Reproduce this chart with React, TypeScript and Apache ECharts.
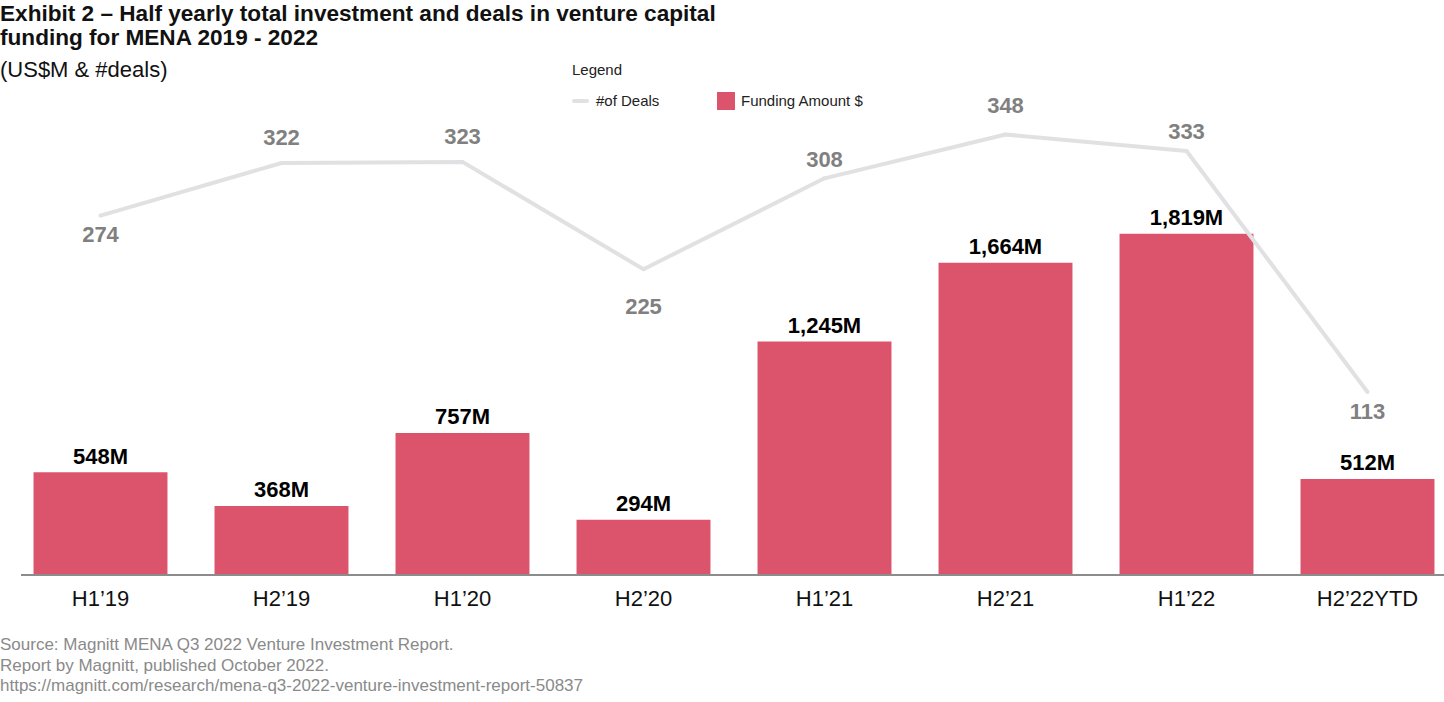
import React, { useEffect, useRef } from "react";
import * as echarts from "echarts";

const categories = ["H1’19", "H2’19", "H1’20", "H2’20", "H1’21", "H2’21", "H1’22", "H2’22YTD"];
const fundingAmount = [548, 368, 757, 294, 1245, 1664, 1819, 512];
const dealCounts = [274, 322, 323, 225, 308, 348, 333, 113];
const dealLabelPlacement = ["bottom", "top", "top", "bottom", "top", "top", "top", "bottom"];
const dealLabelShift = [0, -6, -6, 18, 0, -10, 0, 0];

const titleLines = [
  "Exhibit 2 – Half yearly total investment and deals in venture capital",
  "funding for MENA 2019 - 2022",
];
const subtitle = "(US$M & #deals)";
const sourceLines = [
  "Source: Magnitt MENA Q3 2022 Venture Investment Report.",
  "Report by Magnitt, published October 2022.",
  "https://magnitt.com/research/mena-q3-2022-venture-investment-report-50837",
];

const BAR = "#dc546c";
const LINE = "#e1e1e3";
const FONT = "'Liberation Sans', Arial, Helvetica, sans-serif";

export default function App() {
  const ref = useRef<HTMLDivElement>(null);
  useEffect(() => {
    if (!ref.current) return;
    const chart = echarts.init(ref.current, undefined, { renderer: "svg" });
    const fmt = (v: number) => v.toLocaleString("en-US") + "M";
    chart.setOption({
      animation: false,
      textStyle: { fontFamily: FONT },
      grid: { left: 10, right: 0, top: 106, bottom: 127, containLabel: false },
      xAxis: {
        type: "category",
        data: categories,
        axisLine: { show: false },
        axisTick: { show: false },
        axisLabel: { color: "#111", fontSize: 22, margin: 12, fontFamily: FONT },
      },
      yAxis: [
        { type: "value", min: 0, max: 2500, show: false },
        { type: "value", min: -54, max: 374, show: false },
      ],
      series: [
        {
          type: "bar",
          name: "Funding Amount $",
          data: fundingAmount,
          yAxisIndex: 0,
          barCategoryGap: "26%",
          itemStyle: { color: BAR },
          label: {
            show: true,
            position: "top",
            distance: 5,
            color: "#000",
            fontWeight: "bold",
            fontSize: 22,
            fontFamily: FONT,
            formatter: (p: any) => fmt(p.value),
          },
          z: 2,
        },
        {
          type: "line",
          name: "#of Deals",
          yAxisIndex: 1,
          symbol: "circle",
          symbolSize: 4,
          itemStyle: { color: LINE },
          lineStyle: { color: LINE, width: 4 },
          data: dealCounts.map((v, i) => ({
            value: v,
            label: {
              position: dealLabelPlacement[i],
              offset: [0, dealLabelShift[i]],
            },
          })),
          label: {
            show: true,
            color: "#808080",
            fontWeight: "bold",
            fontSize: 22,
            fontFamily: FONT,
            distance: 6,
          },
          z: 3,
        },
      ],
      graphic: [
        { type: "line", shape: { x1: 21, y1: 575, x2: 1444, y2: 575 }, style: { stroke: "#8c8c8c", lineWidth: 2 }, z: 10 },
        { type: "text", left: 0, top: 2, style: { text: titleLines[0], font: `bold 22.6px ${FONT}`, fill: "#111" } },
        { type: "text", left: 0, top: 26, style: { text: titleLines[1], font: `bold 22.6px ${FONT}`, fill: "#111" } },
        { type: "text", left: 0, top: 58, style: { text: subtitle, font: `22px ${FONT}`, fill: "#111" } },
        { type: "text", left: 572, top: 62, style: { text: "Legend", font: `15px ${FONT}`, fill: "#222" } },
        { type: "line", shape: { x1: 574, y1: 101, x2: 587, y2: 101 }, style: { stroke: LINE, lineWidth: 4, lineCap: "round" } },
        { type: "text", left: 596, top: 93, style: { text: "#of Deals", font: `15px ${FONT}`, fill: "#222" } },
        { type: "rect", shape: { x: 717, y: 92, width: 18, height: 18 }, style: { fill: BAR } },
        { type: "text", left: 741, top: 93, style: { text: "Funding Amount $", font: `15px ${FONT}`, fill: "#222" } },
        ...sourceLines.map((t, i) => ({
          type: "text",
          left: 0,
          top: 636 + i * 20.5,
          style: { text: t, font: `17px ${FONT}`, fill: "#8a8a8a" },
        })),
      ],
    });
    return () => chart.dispose();
  }, []);
  return (
    <div style={{ position: "fixed", left: 0, top: 0, width: 1444, height: 702, overflow: "hidden", background: "#fff" }}>
      <div ref={ref} style={{ width: 1458, height: 702 }} />
    </div>
  );
}
